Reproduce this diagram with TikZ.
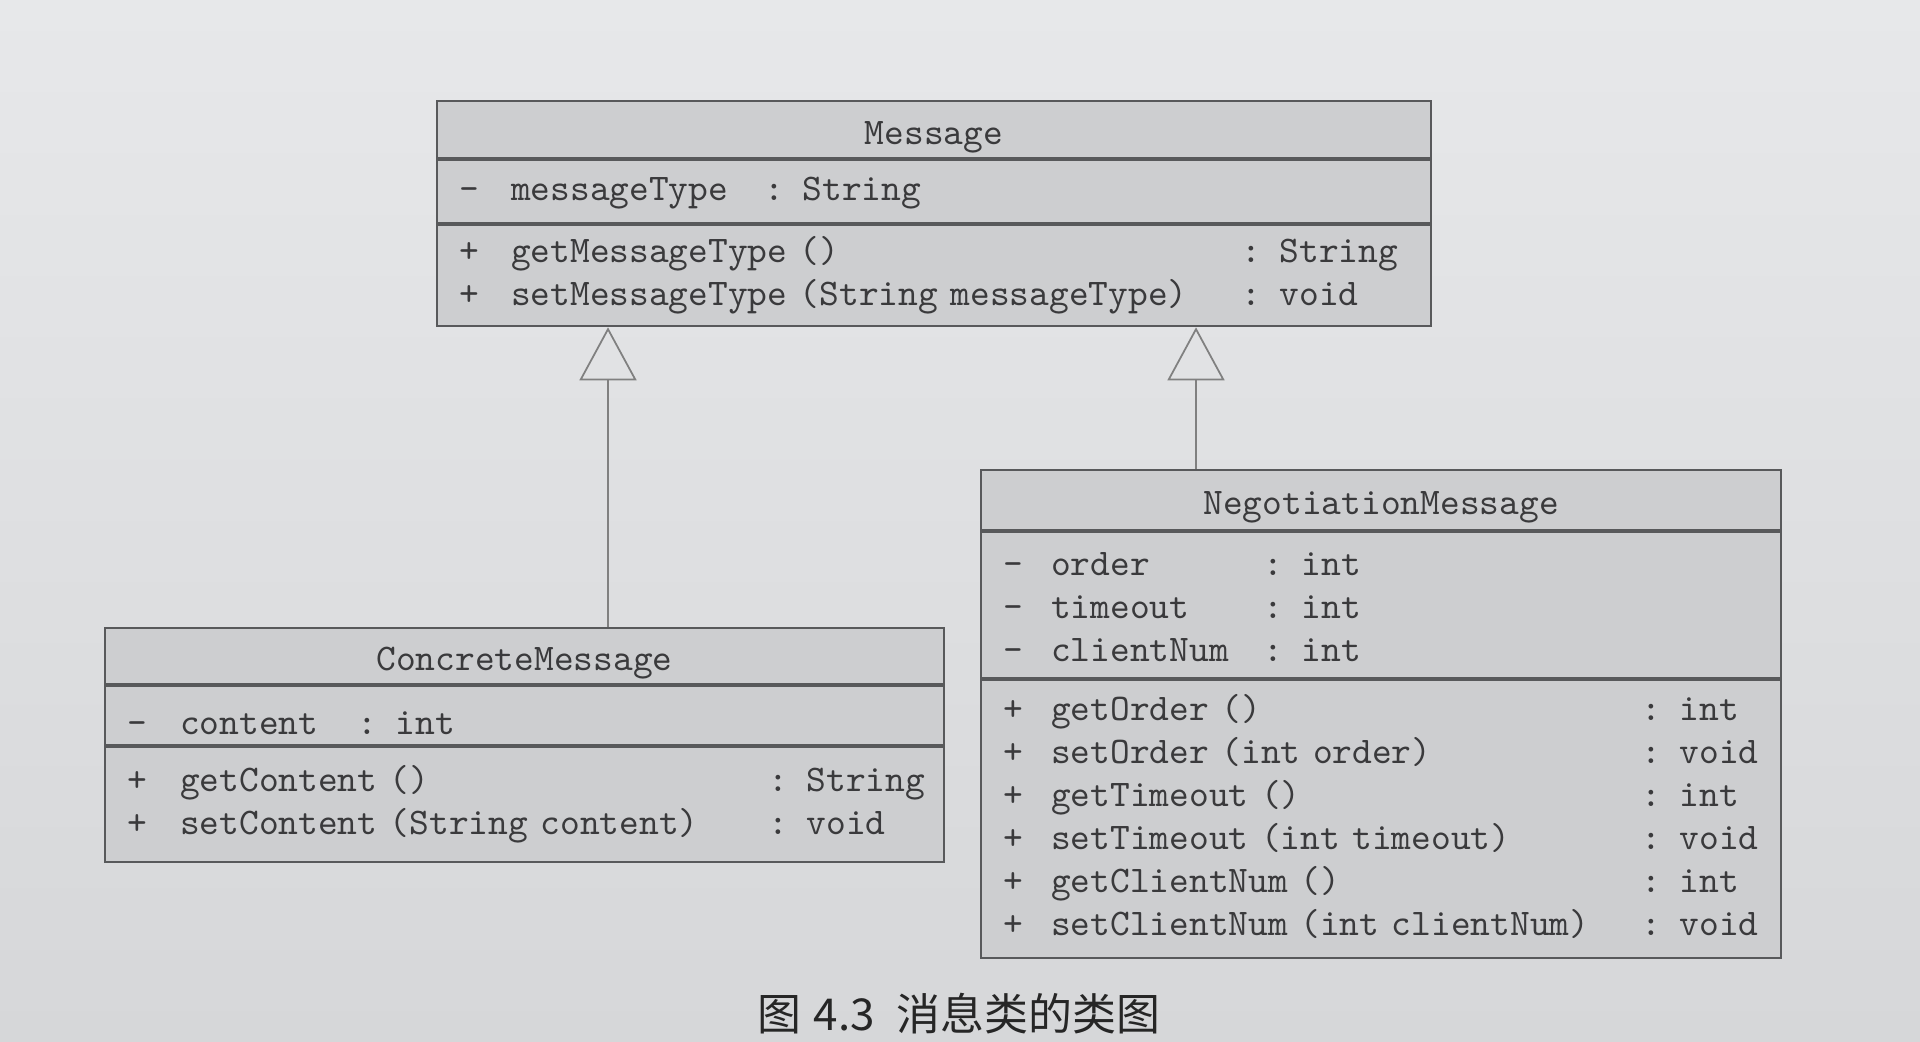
\documentclass[tikz,border=0pt]{standalone}
\usepackage{fontspec}
\usepackage{array}
\newfontfamily\cjkfont{Noto Sans CJK SC}
\usetikzlibrary{arrows.meta,positioning}
\definecolor{papertop}{RGB}{231,232,234}
\definecolor{paperbot}{RGB}{214,215,217}
\definecolor{boxfill}{RGB}{205,206,208}
\definecolor{ink}{RGB}{58,58,60}
\definecolor{rule}{RGB}{88,89,91}

\begin{document}
\begin{tikzpicture}[x=1cm,y=1cm,font=\ttfamily\fontsize{10.7}{12.2}\selectfont,text=ink,
cname/.style={draw=rule,line width=.6pt,fill=boxfill,align=center,inner sep=0pt,text height=8.5pt,text depth=.2pt},
cpart/.style={draw=rule,line width=.6pt,fill=boxfill,align=left,inner xsep=.22cm,inner ysep=0pt},
gen/.style={-{Triangle[open,length=5.3mm,width=5.7mm]},line width=.5pt,draw=gray}]

\shade[top color=papertop,bottom color=paperbot](0,0)rectangle(19.2,10.41);
\useasboundingbox(0,0)rectangle(19.2,10.41);

% Message
\node[cname,minimum width=9.94cm,minimum height=.57cm,anchor=north west](msgname)at(4.36,9.41){Message};
\node[cpart,text width=9.5cm,minimum height=.63cm,below=0pt of msgname](msgattr){\begin{tabular}{@{}p{.52cm}@{}p{2.53cm}@{}l@{}}-&messageType&: String\end{tabular}};
\node[cpart,text width=9.5cm,minimum height=1.01cm,below=0pt of msgattr](msgops){\begin{tabular}{@{}p{.52cm}@{}p{7.3cm}@{}l@{}}+&getMessageType ()&: String\\+&setMessageType (String messageType)&: void\end{tabular}};

% ConcreteMessage
\node[cname,minimum width=8.39cm,minimum height=.56cm,anchor=north west](cmname)at(1.04,4.14){ConcreteMessage};
\node[cpart,text width=7.95cm,minimum height=.59cm,text height=11.5pt,text depth=.2pt,below=0pt of cmname](cmattr){\begin{tabular}{@{}p{.53cm}@{}p{1.77cm}@{}l@{}}-&content&: int\end{tabular}};
\node[cpart,text width=7.95cm,minimum height=1.15cm,below=0pt of cmattr](cmops){\begin{tabular}{@{}p{.53cm}@{}p{5.88cm}@{}l@{}}+&getContent ()&: String\\+&setContent (String content)&: void\end{tabular}};

% NegotiationMessage
\node[cname,minimum width=8cm,minimum height=.6cm,anchor=north west](nmname)at(9.8,5.72){NegotiationMessage};
\node[cpart,text width=7.56cm,minimum height=1.46cm,text height=22.4pt,text depth=14.2pt,below=0pt of nmname](nmattr){\begin{tabular}{@{}p{.48cm}@{}p{2.12cm}@{}l@{}}-&order&: int\\-&timeout&: int\\-&clientNum&: int\end{tabular}};
\node[cpart,text width=7.56cm,minimum height=2.78cm,below=0pt of nmattr](nmops){\begin{tabular}{@{}p{.48cm}@{}p{5.9cm}@{}l@{}}+&getOrder ()&: int\\+&setOrder (int order)&: void\\+&getTimeout ()&: int\\+&setTimeout (int timeout)&: void\\+&getClientNum ()&: int\\+&setClientNum (int clientNum)&: void\end{tabular}};

% generalisation
\coordinate(genL)at(6.08,0);
\coordinate(genR)at(11.96,0);
\draw[gen](cmname.north-|genL)--(msgops.south-|genL);
\draw[gen](nmname.north-|genR)--(msgops.south-|genR);

\node[font=\cjkfont\fontsize{12.5}{14}\selectfont,text=black!85](cap)at(9.59,.27){图\hspace{.12cm}4.3\hspace{.22cm}消息类的类图};
\end{tikzpicture}
\end{document}
